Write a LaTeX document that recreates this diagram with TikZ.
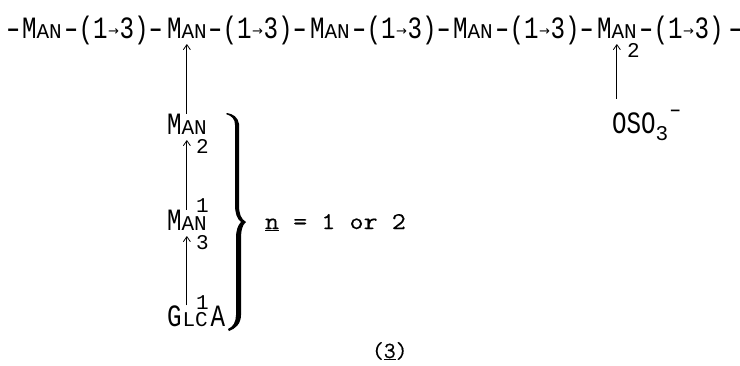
\documentclass[tikz,border=0pt]{standalone}
\usepackage{fontspec}
\usepackage{graphicx}
\setmainfont{Liberation Mono}
\newfontfamily\bigfam[FakeStretch=0.78]{Liberation Mono}
\newfontfamily\smfam{Liberation Mono}
\newfontfamily\arrfam{DejaVu Sans}
\newfontfamily\cour[FakeStretch=1.14,FakeBold=0.4]{Latin Modern Mono}
\newfontfamily\courcap[FakeBold=0.4]{Latin Modern Mono}
\usetikzlibrary{arrows.meta}
\newcommand{\bigt}{\fontsize{31}{31}\selectfont\bigfam}
\newcommand{\smt}{\fontsize{21}{21}\selectfont\smfam}
\newcommand{\Man}{{\bigt M}{\smt AN}}
\newcommand{\Dsh}{\makebox[14.5pt]{\scalebox{1.5}[1]{-}}}
\newcommand{\Link}{{\bigt \Dsh(1\raisebox{3pt}{\makebox[12pt]{\fontsize{13}{13}\selectfont\arrfam →}}3)\Dsh}}
\newcommand{\LinkEnd}{{\bigt \Dsh(1\raisebox{3pt}{\makebox[12pt]{\fontsize{13}{13}\selectfont\arrfam →}}3)\makebox[11pt][l]{\hspace{1pt}\scalebox{1.5}[1]{-}}}}
\tikzset{
  txt/.style={inner sep=0pt,outer sep=0pt,anchor=base west},
  lbl/.style={inner sep=0pt,outer sep=0pt,anchor=base west,font=\smt},
  arr/.style={line width=0.9pt,-{Straight Barb[length=5pt,width=7pt,line width=0.8pt]}},
}
\begin{document}
\begin{tikzpicture}[x=1pt,y=-1pt]
\useasboundingbox (0,0) rectangle (740,365);
\node[txt] (d0) at (6,38) {\bigt \Dsh};
\node[txt] (m1) at (22,38) {\Man};
\node[txt] (l1) at (64,38) {\Link};
\node[txt] (m2) at (167,38) {\Man};
\node[txt] (l2) at (208,38) {\Link};
\node[txt] (m3) at (310,38) {\Man};
\node[txt] (l3) at (352,38) {\Link};
\node[txt] (m4) at (453,38) {\Man};
\node[txt] (l4) at (495,38) {\Link};
\node[txt] (m5) at (597,38) {\Man};
\node[txt] (l5) at (639,38) {\LinkEnd};
\node[txt] (a) at (167,134) {\Man};
\node[txt] (b) at (167,230) {\Man};
\node[txt] (c) at (167,326) {{\bigt G}\hspace{1pt}{\smt LC}\hspace{3pt}{\bigt A}};
\node[txt] (o) at (612,133) {{\bigt OSO}\raisebox{-7pt}{\smt 3}\raisebox{17pt}{\smt\Dsh}};
\node[lbl] (n2a) at (627,57) {2};
\node[lbl] (n2b) at (196,153) {2};
\node[lbl] (n1b) at (196,212) {1};
\node[lbl] (n3c) at (196,249) {3};
\node[lbl] (n1c) at (196,309) {1};
\node[txt] (nn) at (265,229) {\fontsize{24}{24}\selectfont\cour \underline{n} = 1 or 2};
\node[txt] (cap) at (372,358) {\fontsize{23}{23}\selectfont\courcap (\underline{3})};
\draw[arr,shorten >=6pt] (a.north) -- (m2.south);
\draw[arr,shorten >=6pt] (b.north) -- (a.south);
\draw[arr,shorten >=6pt] (c.north -| b.north) -- (b.south);
\draw[arr,shorten >=6pt,shorten <=11pt] (m5.south |- o.north) -- (m5.south);
\fill (227,113) .. controls (233,114) and (238,117) .. (239,124)
  -- (239,205) .. controls (239,214) and (241,219) .. (246,222)
  .. controls (242,225) and (241,231) .. (241,240)
  -- (241,315) .. controls (241,324) and (235,329) .. (229,331)
  -- (228,329) .. controls (233,327) and (236,322) .. (236,315)
  -- (236,238) .. controls (236,230) and (238,225) .. (241,222)
  .. controls (237,219) and (235,213) .. (235,205)
  -- (235,125) .. controls (235,119) and (232,116) .. (226,114) -- cycle;
\end{tikzpicture}
\end{document}
